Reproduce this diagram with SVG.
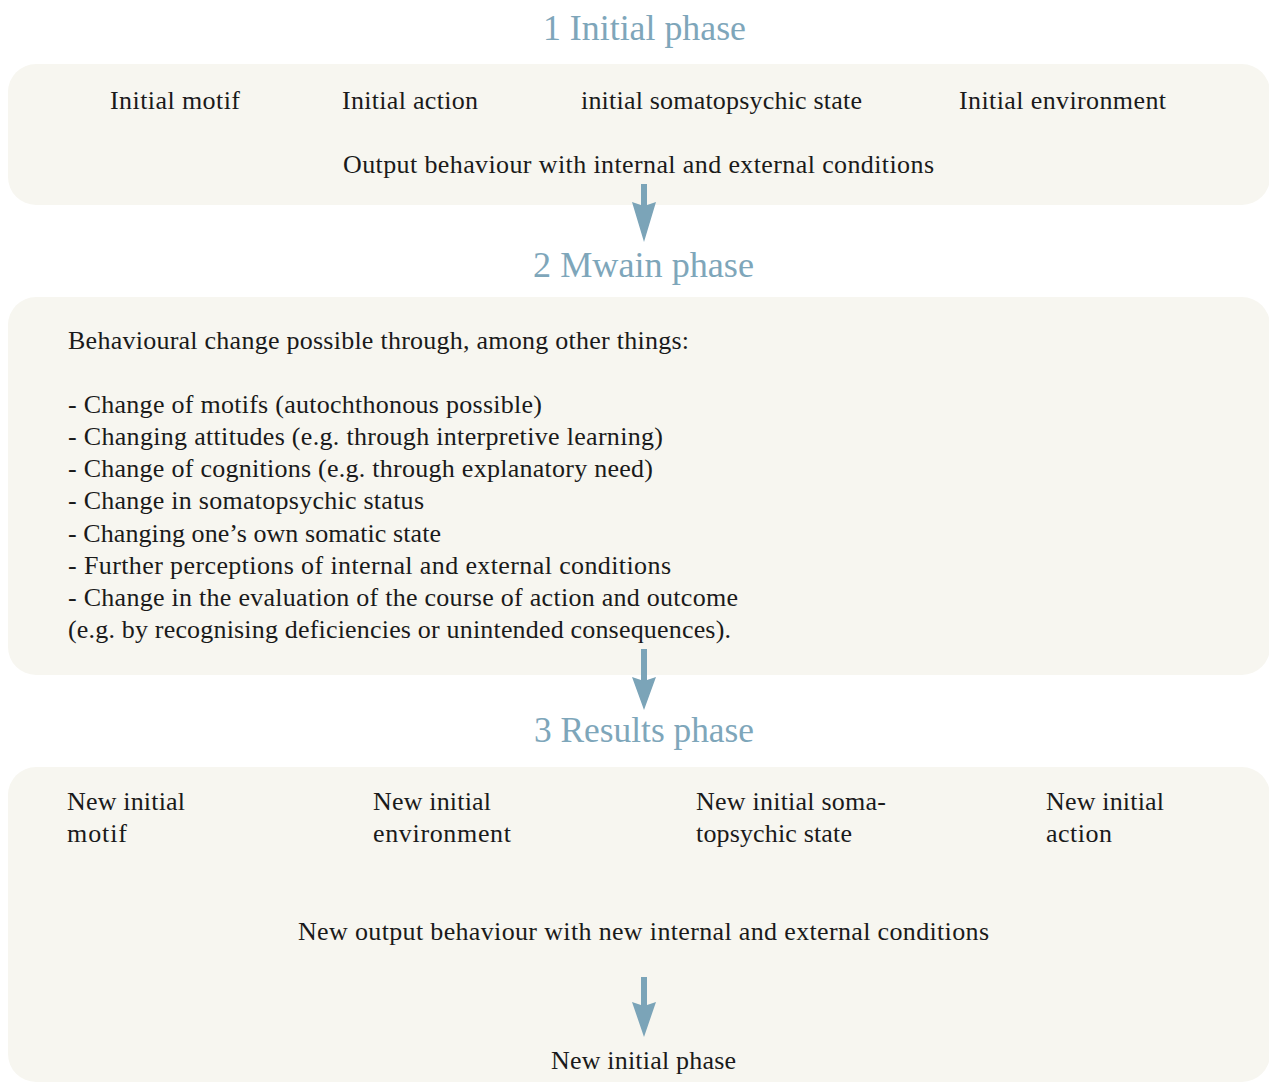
<svg xmlns="http://www.w3.org/2000/svg" width="1269" height="1084" viewBox="0 0 1269 1084">
  <defs>
    <style>
      .panel { fill: #f7f6f0; }
      .title { font-family: "Liberation Serif", "DejaVu Serif", serif; font-size: 36px; fill: #7ea6ba; }
      .txt { font-family: "Liberation Serif", "DejaVu Serif", serif; font-size: 26px; fill: #1a1a1a; }
      .arrow { fill: #7ba4b8; }
    </style>
  </defs>

  <rect width="1269" height="1084" fill="#ffffff"/>

  <!-- Phase 1 -->
  <g id="phase1">
    <text class="title" x="543" y="40" textLength="203" lengthAdjust="spacingAndGlyphs">1 Initial phase</text>
    <rect class="panel" x="8" y="64" width="1262" height="141" rx="28"/>
    <text class="txt" x="110" y="109" textLength="130">Initial motif</text>
    <text class="txt" x="342" y="109" textLength="136">Initial action</text>
    <text class="txt" x="581" y="109" textLength="281">initial somatopsychic state</text>
    <text class="txt" x="959" y="109" textLength="207">Initial environment</text>
    <text class="txt" x="343" y="173" textLength="591">Output behaviour with internal and external conditions</text>
  </g>

  <!-- Phase 2 -->
  <g id="phase2">
    <text class="title" x="533" y="277" textLength="221" lengthAdjust="spacingAndGlyphs">2 Mwain phase</text>
    <rect class="panel" x="8" y="297" width="1262" height="378" rx="28"/>
    <text class="txt" x="68" y="349" textLength="621">Behavioural change possible through, among other things:</text>
    <text class="txt" x="68" y="413" textLength="474">- Change of motifs (autochthonous possible)</text>
    <text class="txt" x="68" y="445" textLength="595">- Changing attitudes (e.g. through interpretive learning)</text>
    <text class="txt" x="68" y="477" textLength="585">- Change of cognitions (e.g. through explanatory need)</text>
    <text class="txt" x="68" y="509" textLength="356">- Change in somatopsychic status</text>
    <text class="txt" x="68" y="542" textLength="373">- Changing one’s own somatic state</text>
    <text class="txt" x="68" y="574" textLength="603">- Further perceptions of internal and external conditions</text>
    <text class="txt" x="68" y="606" textLength="670">- Change in the evaluation of the course of action and outcome</text>
    <text class="txt" x="68" y="638" textLength="663">(e.g. by recognising deficiencies or unintended consequences).</text>
  </g>

  <!-- Phase 3 -->
  <g id="phase3">
    <text class="title" x="534" y="742" textLength="220" lengthAdjust="spacingAndGlyphs">3 Results phase</text>
    <rect class="panel" x="8" y="767" width="1262" height="315" rx="28"/>
    <text class="txt" x="67" y="810" textLength="118">New initial</text>
    <text class="txt" x="67" y="842" textLength="60">motif</text>
    <text class="txt" x="373" y="810" textLength="118">New initial</text>
    <text class="txt" x="373" y="842" textLength="138">environment</text>
    <text class="txt" x="696" y="810" textLength="190">New initial soma-</text>
    <text class="txt" x="696" y="842" textLength="156">topsychic state</text>
    <text class="txt" x="1046" y="810" textLength="118">New initial</text>
    <text class="txt" x="1046" y="842" textLength="66">action</text>
    <text class="txt" x="298" y="940" textLength="691">New output behaviour with new internal and external conditions</text>
    <text class="txt" x="551" y="1069" textLength="185">New initial phase</text>
  </g>

  <!-- Connectors -->
  <g id="connectors">
    <path class="arrow" d="M641,184 H647 V205 L656,202 L644,242 L632,202 L641,205 Z"/>
    <path class="arrow" d="M641,649 H647 V680 L656,677 L644,710 L632,677 L641,680 Z"/>
    <path class="arrow" d="M641,977 H647 V1005 L656,1002 L644,1037 L632,1002 L641,1005 Z"/>
  </g>
</svg>
